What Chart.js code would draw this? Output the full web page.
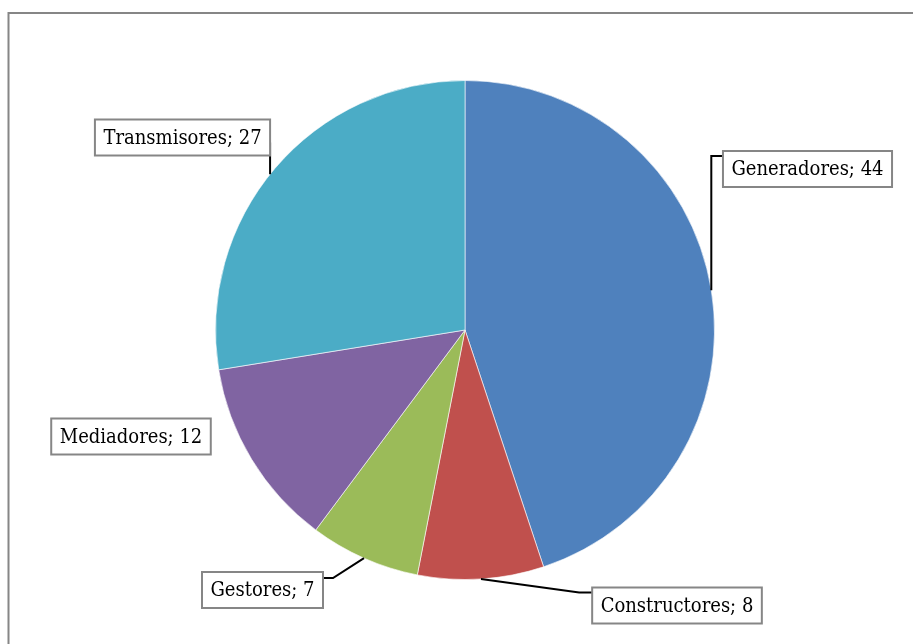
<!DOCTYPE html>
<html>
<head>
<meta charset="utf-8">
<script src="https://cdn.jsdelivr.net/npm/chart.js@4.4.1/dist/chart.umd.min.js"></script>
<style>
    html, body { margin: 0; padding: 0; background: #fff; }
    #wrap { position: relative; width: 913px; height: 644px; }
</style>
</head>
<body>
<div id="wrap"><canvas id="pie-chart" width="913" height="644"></canvas></div>
<script>
const categories = ['Generadores', 'Constructores', 'Gestores', 'Mediadores', 'Transmisores'];
const values = [44, 8, 7, 12, 27];
const sliceColors = ['#4F81BD', '#C0504D', '#9BBB59', '#8064A2', '#4BACC6'];

// where each label box sits and how its leader line runs back to the slice
const labelBoxes = [
    { cx: 807.5, cy: 169, attach: 'left', dy: 5, elbow: 'anchorX' },
    { cx: 677, cy: 605.5, attach: 'left', dy: 5, elbow: -13 },
    { cx: 262.5, cy: 590, attach: 'right', dy: 6, elbow: 10 },
    { cx: 131, cy: 436.5, attach: null },
    { cx: 182.5, cy: 137.5, attach: 'right', dy: 23, elbow: 'drop' }
];

const labelFont = '20px "DejaVu Serif Condensed", "DejaVu Serif", serif';
const boxHeight = 36;

const frame = {
    id: 'frame',
    afterDraw(chart) {
        const ctx = chart.ctx;
        ctx.save();
        ctx.strokeStyle = '#868686';
        ctx.lineWidth = 2;
        ctx.strokeRect(8.5, 13, 2000, 2000);
        ctx.restore();
    }
};

const sliceLabels = {
    id: 'sliceLabels',
    afterDatasetsDraw(chart) {
        const ctx = chart.ctx;
        const arcs = chart.getDatasetMeta(0).data;
        ctx.save();
        ctx.font = labelFont;
        ctx.textBaseline = 'middle';
        ctx.textAlign = 'center';

        arcs.forEach(function (arc, i) {
            const p = arc.getProps(['x', 'y', 'startAngle', 'endAngle', 'outerRadius'], true);
            const mid = (p.startAngle + p.endAngle) / 2;
            const text = categories[i] + '; ' + values[i];
            const box = labelBoxes[i];
            const w = ctx.measureText(text).width + 17;
            const left = box.cx - w / 2;
            const top = box.cy - boxHeight / 2;

            // leader line
            if (box.attach) {
                const sx = box.attach === 'left' ? left : left + w;
                const sy = top + box.dy;
                let pts;
                if (box.elbow === 'drop') {
                    const dx = sx - p.x;
                    const ey = p.y - Math.sqrt(p.outerRadius * p.outerRadius - dx * dx);
                    pts = [[sx, sy], [sx, ey]];
                } else {
                    const ax = p.x + Math.cos(mid) * p.outerRadius;
                    const ay = p.y + Math.sin(mid) * p.outerRadius;
                    const ex = box.elbow === 'anchorX' ? ax : sx + box.elbow;
                    pts = [[sx, sy], [ex, sy], [ax, ay]];
                }
                ctx.strokeStyle = '#000';
                ctx.lineWidth = 2;
                ctx.beginPath();
                ctx.moveTo(pts[0][0], pts[0][1]);
                for (let k = 1; k < pts.length; k++) ctx.lineTo(pts[k][0], pts[k][1]);
                ctx.stroke();
            }

            ctx.fillStyle = '#fff';
            ctx.fillRect(left, top, w, boxHeight);
            ctx.strokeStyle = '#868686';
            ctx.lineWidth = 2;
            ctx.strokeRect(left, top, w, boxHeight);
            ctx.fillStyle = '#000';
            ctx.fillText(text, box.cx, box.cy + 1);
        });
        ctx.restore();
    }
};

new Chart(document.getElementById('pie-chart'), {
    type: 'pie',
    data: {
        labels: categories,
        datasets: [{
            data: values,
            backgroundColor: sliceColors,
            borderColor: 'rgba(255, 255, 255, 0.6)',
            borderWidth: 1
        }]
    },
    options: {
        responsive: false,
        animation: false,
        layout: {
            padding: { left: 215, right: 198, top: 80, bottom: 64 }
        },
        plugins: {
            legend: { display: false },
            tooltip: { enabled: false }
        }
    },
    plugins: [frame, sliceLabels]
});
</script>
</body>
</html>
